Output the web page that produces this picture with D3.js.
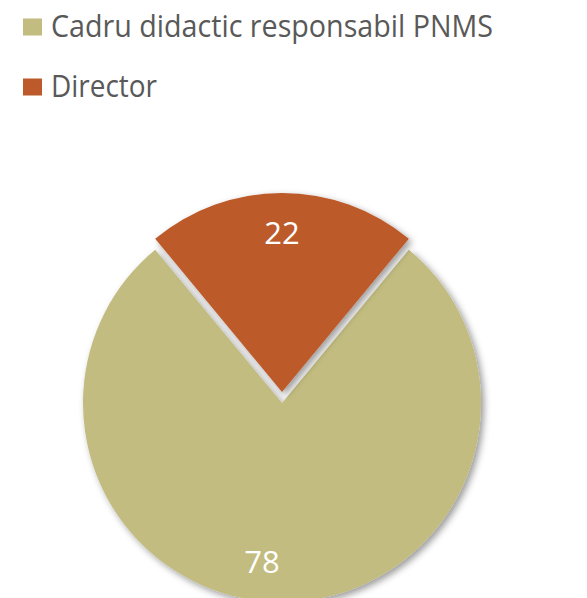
<!DOCTYPE html>
<html lang="ro">
<head>
<meta charset="UTF-8">
<title>Pie</title>
<script src="https://d3js.org/d3.v7.min.js"></script>
<style>
  * { margin: 0; padding: 0; }
  body { background: #fff; width: 587px; height: 598px; overflow: hidden; }
  text { font-family: "Open Sans", "Noto Sans", sans-serif; }
</style>
</head>
<body>
<div id="chart"></div>
<script>
// data
const categories = ["Cadru didactic responsabil PNMS", "Director"];
const values = [78, 22];
const colors = ["#C2BC80", "#BD5A2B"];

const w = 587, h = 598;
const cx = 282, cy = 403, r = 199;
const explode = 11;

const svg = d3.select("#chart").append("svg")
  .attr("width", w).attr("height", h);

const defs = svg.append("defs");
const f = defs.append("filter").attr("id", "shadow")
  .attr("x", "-20%").attr("y", "-20%").attr("width", "140%").attr("height", "140%");
f.append("feDropShadow")
  .attr("dx", 3).attr("dy", 3).attr("stdDeviation", 3.5)
  .attr("flood-color", "#000").attr("flood-opacity", 0.4);

// legend (Calibri-ish widths, squeezed Open Sans)
const legendWidths = [442, 106];
const legend = svg.append("g");
categories.forEach((c, i) => {
  const y = 27 + i * 60;
  legend.append("rect")
    .attr("x", 23).attr("y", y - 8.5).attr("width", 19).attr("height", 17)
    .attr("fill", colors[i]);
  legend.append("text")
    .attr("x", 51).attr("y", y + 10)
    .attr("font-size", 31)
    .attr("fill", "#595959")
    .attr("textLength", legendWidths[i])
    .attr("lengthAdjust", "spacingAndGlyphs")
    .text(c);
});

// pie: Director centred at the top
const dirAngle = values[1] / d3.sum(values) * 2 * Math.PI;
const pie = d3.pie().sort(null).value(d => d.v)
  .startAngle(dirAngle / 2).endAngle(dirAngle / 2 + 2 * Math.PI);
const arcs = pie(values.map((v, i) => ({ v, i })));

const arc = d3.arc().innerRadius(0).outerRadius(r);
const labelArc = d3.arc().innerRadius(r * 0.8).outerRadius(r * 0.8);

const g = svg.append("g").attr("transform", `translate(${cx},${cy})`);

const slices = g.selectAll("g.slice").data(arcs).enter().append("g")
  .attr("class", "slice")
  .attr("transform", d => {
    if (d.data.i !== 1) return null;
    const a = (d.startAngle + d.endAngle) / 2;
    return `translate(${Math.sin(a) * explode},${-Math.cos(a) * explode})`;
  });

slices.append("path")
  .attr("d", arc)
  .attr("fill", d => colors[d.data.i])
  .attr("filter", "url(#shadow)");

const labelDx = [-20, 0];
slices.append("text")
  .attr("transform", d => {
    const p = labelArc.centroid(d);
    return `translate(${p[0] + labelDx[d.data.i]},${p[1]})`;
  })
  .attr("text-anchor", "middle")
  .attr("dy", "0.36em")
  .attr("font-size", 31)
  .attr("fill", "#fff")
  .text(d => d.data.v);
</script>
</body>
</html>
